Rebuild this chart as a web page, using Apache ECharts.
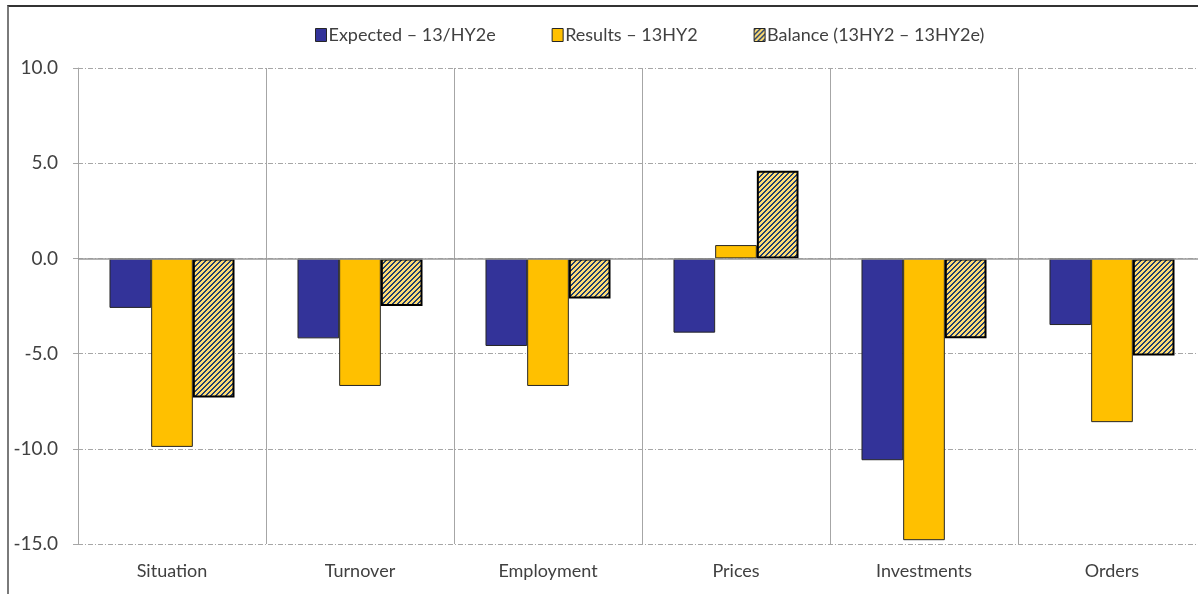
<!DOCTYPE html>
<html>
<head>
<meta charset="utf-8">
<script src="https://cdn.jsdelivr.net/npm/echarts@6/dist/echarts.min.js"></script>
<style>
  html, body { margin: 0; padding: 0; background: #fff; overflow: hidden; width: 1198px; height: 594px; }
  #frame {
    position: absolute; left: 7px; top: 5px; right: 0; bottom: 0;
    border-left: 2px solid #7a7a7a; border-top: 2px solid #333;
  }
  #chart { position: absolute; left: 0; top: 0; width: 1212px; height: 594px; }
</style>
</head>
<body>
<div id="frame"></div>
<div id="chart"></div>
<script>
const categories = ['Situation', 'Turnover', 'Employment', 'Prices', 'Investments', 'Orders']
const expected = [-2.6, -4.2, -4.6, -3.9, -10.6, -3.5]
const results = [-9.9, -6.7, -6.7, 0.7, -14.8, -8.6]
const balance = [-7.3, -2.5, -2.1, 4.6, -4.2, -5.1]
const seriesNames = ['Expected – 13/HY2e', 'Results – 13HY2', 'Balance (13HY2 – 13HY2e)']

// pixel hatch tile ("/" stripes) for the balance bars
function hatch() {
  const n = 5
  const c = document.createElement('canvas')
  c.width = n; c.height = n
  const g = c.getContext('2d')
  for (let x = 0; x < n; x++) {
    for (let y = 0; y < n; y++) {
      const k = (x + y) % n
      g.fillStyle = (k === 0 || k === 1) ? '#23406f' : '#ffdc73'
      g.fillRect(x, y, 1, 1)
    }
  }
  return c
}

const font = 'Lato, "Noto Sans", sans-serif'
const chart = echarts.init(document.getElementById('chart'), null, { renderer: 'canvas' })
const pattern = { image: hatch(), repeat: 'repeat' }

chart.setOption({
  animation: false,
  textStyle: { fontFamily: font, color: '#404040' },
  legend: {
    left: 310,
    top: 21,
    icon: 'rect',
    itemWidth: 11,
    itemHeight: 13,
    itemGap: 56,
    itemStyle: { borderColor: '#262626', borderWidth: 1 },
    textStyle: { fontSize: 18, color: '#404040', fontFamily: font, padding: [0, 0, 0, -3] },
    data: seriesNames,
  },
  grid: { left: 78, top: 68, width: 1128, bottom: 50 },
  xAxis: {
    type: 'category',
    data: categories,
    axisLine: { show: false, onZero: false },
    axisTick: { show: false },
    splitLine: { show: true, lineStyle: { color: '#a6a6a6', width: 1, type: 'solid' } },
    axisLabel: { fontSize: 18, color: '#404040', margin: 18, fontFamily: font },
  },
  yAxis: {
    type: 'value',
    min: -15,
    max: 10,
    interval: 5,
    axisLine: { show: true, lineStyle: { color: '#a6a6a6' } },
    axisTick: { show: true, length: 5, lineStyle: { color: '#a6a6a6' } },
    splitLine: { lineStyle: { color: '#a6a6a6', type: [5, 2, 1, 2] } },
    axisLabel: {
      fontSize: 19, color: '#404040', margin: 20, fontFamily: font,
      formatter: v => v.toFixed(1),
    },
  },
  series: [
    {
      name: seriesNames[0],
      type: 'bar',
      data: expected,
      barGap: '0%',
      barCategoryGap: '33.5%',
      itemStyle: { color: '#333399', borderColor: '#262626', borderWidth: 1 },
      markLine: {
        symbol: 'none',
        silent: true,
        label: { show: false },
        lineStyle: { color: '#999', type: 'solid', width: 1.5 },
        data: [{ yAxis: 0 }],
      },
    },
    {
      name: seriesNames[1],
      type: 'bar',
      data: results,
      itemStyle: { color: '#ffc000', borderColor: '#262626', borderWidth: 1 },
    },
    {
      name: seriesNames[2],
      type: 'bar',
      data: balance,
      itemStyle: { color: pattern, borderColor: '#000', borderWidth: 2 },
    },
  ],
})
</script>
</body>
</html>
